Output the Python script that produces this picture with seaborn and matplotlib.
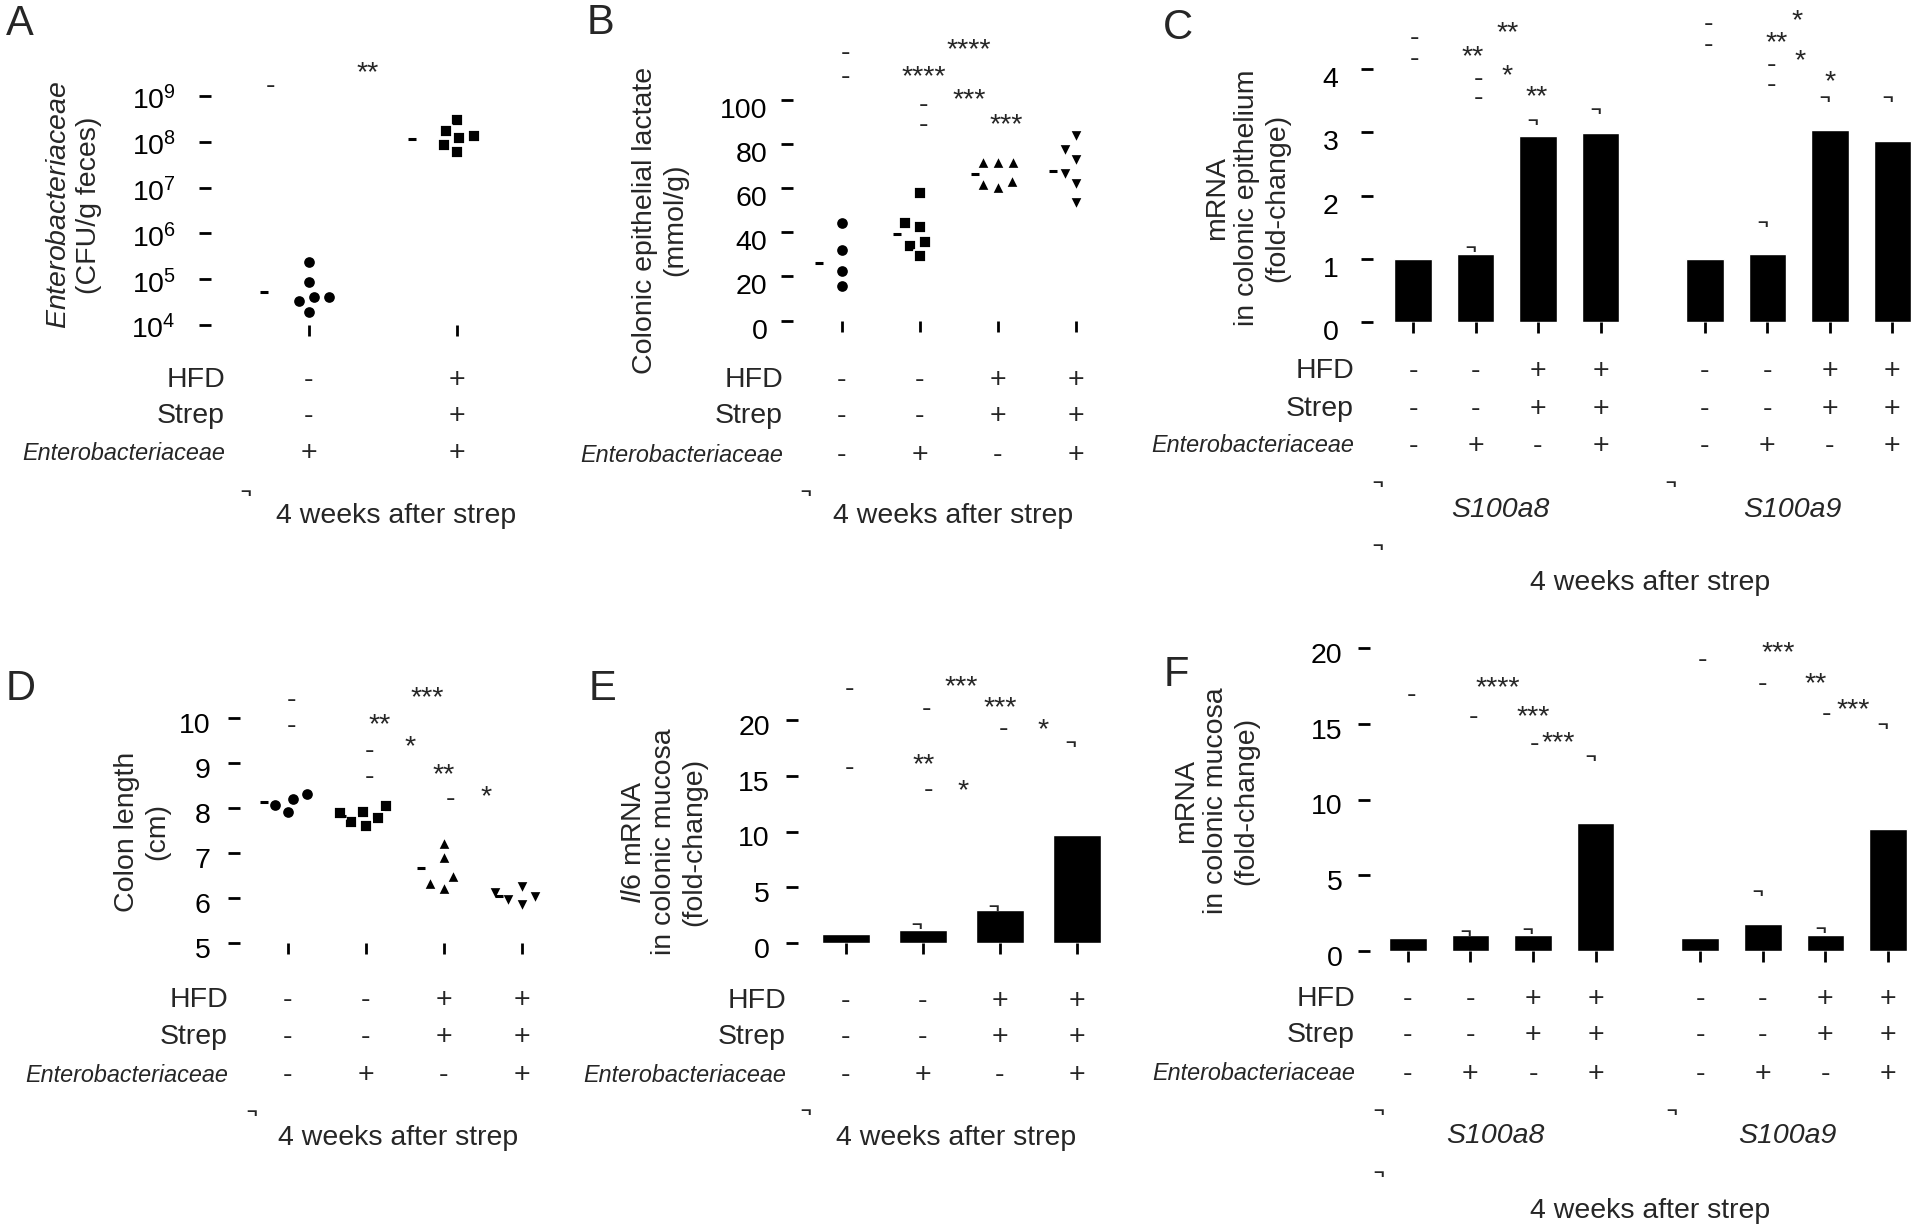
import matplotlib
matplotlib.use("Agg")
import matplotlib.pyplot as plt
import matplotlib.transforms as mtransforms
from matplotlib import font_manager
import seaborn as sns
import numpy as np
import pandas as pd

nan = np.nan

# ---- A: Enterobacteriaceae in feces (CFU/g) ----
a_hfd = ["-", "+"]
a_strep = ["-", "+"]
a_entero = ["+", "+"]
a_grp1 = [2.4e5, 8.7e4, 4.0e4, 4.0e4, 3.3e4, 1.9e4]
a_grp2 = [2.95e8, 1.74e8, 1.2e8, 1.32e8, 8.5e7, 5.9e7]
a_means = [5.2e4, 1.15e8]
a_ticks = [1e4, 1e5, 1e6, 1e7, 1e8, 1e9]
a_ticklabels = ["$10^{4}$", "$10^{5}$", "$10^{6}$", "$10^{7}$", "$10^{8}$", "$10^{9}$"]
a_marks = [("**", 0.4, 5.0e9), ("-", -0.26, 1.74e9)]

# ---- B: colonic epithelial lactate (mmol/g) ----
b_hfd = ["-", "-", "+", "+"]
b_strep = ["-", "-", "+", "+"]
b_entero = ["-", "+", "-", "+"]
b_grp1 = [44.2, 32.0, 22.7, 15.9]
b_grp2 = [57.9, 44.2, 42.6, 35.6, 34.0, 29.1]
b_grp3 = [71.7, 71.7, 71.7, 63.1, 60.4, 62.0]
b_grp4 = [83.8, 77.3, 72.8, 66.5, 62.0, 53.4]
b_means = [26.0, 39.3, 66.5, 67.6]
b_ticks = [0, 20, 40, 60, 80, 100]
b_marks = [("****", 1.63, 126.7), ("****", 1.05, 114.6), ("***", 1.63, 104.0),
           ("***", 2.11, 92.7), ("-", 0.05, 121.8), ("-", 0.05, 110.8),
           ("-", 1.04, 98.4), ("-", 1.04, 89.2)]

# ---- C: S100a8 / S100a9 mRNA in colonic epithelium ----
genes = ["S100a8", "S100a9"]
c_hfd = ["-", "-", "+", "+"]
c_strep = ["-", "-", "+", "+"]
c_entero = ["-", "+", "-", "+"]
c_s100a8 = [1.0, 1.08, 2.94, 2.99]
c_s100a9 = [1.0, 1.08, 3.03, 2.86]
c_err_s100a8 = [nan, 1.23, 3.23, 3.40]
c_err_s100a9 = [nan, 1.61, 3.60, 3.60]
c_ticks = [0, 1, 2, 3, 4]
c_marks = [("-", 0.03, 4.5), ("-", 0.03, 4.17), ("**", 1.52, 4.72), ("**", 0.96, 4.34),
           ("*", 1.5, 4.04), ("-", 1.05, 3.86), ("-", 1.05, 3.56), ("**", 1.97, 3.7),
           ("-", 4.73, 4.72), ("-", 4.73, 4.39), ("*", 6.14, 4.9), ("**", 5.81, 4.56),
           ("*", 6.2, 4.27), ("-", 5.73, 4.08), ("-", 5.73, 3.76), ("*", 6.67, 3.94)]

# ---- D: colon length (cm) ----
d_hfd = ["-", "-", "+", "+"]
d_strep = ["-", "-", "+", "+"]
d_entero = ["-", "+", "-", "+"]
d_grp1 = [8.2, 7.9, 8.32, 8.07]
d_grp2 = [8.05, 7.78, 7.6, 7.91, 7.69, 7.89]
d_grp3 = [7.22, 6.9, 6.48, 6.33, 6.22]
d_grp4 = [6.12, 5.85, 6.02, 6.25, 5.95]
d_means = [8.14, 7.82, 6.66, 6.04]
d_ticks = [5, 6, 7, 8, 9, 10]
d_marks = [("***", 1.78, 10.65), ("**", 1.18, 10.06), ("*", 1.56, 9.57), ("**", 2.0, 8.94),
           ("*", 2.54, 8.45), ("-", 2.08, 8.23), ("-", 0.05, 10.42), ("-", 0.05, 9.84),
           ("-", 1.04, 9.28), ("-", 1.04, 8.72)]

# ---- E: Il6 mRNA in colonic mucosa ----
e_hfd = ["-", "-", "+", "+"]
e_strep = ["-", "-", "+", "+"]
e_entero = ["-", "+", "-", "+"]
e_il6 = [0.8, 1.15, 2.95, 9.68]
e_err = [nan, 1.87, 3.5, 18.2]
e_ticks = [0, 5, 10, 15, 20]
e_marks = [("-", 0.05, 22.9), ("-", 0.05, 15.8), ("-", 1.04, 21.1), ("**", 1.01, 16.8),
           ("-", 1.07, 13.8), ("*", 1.52, 14.5), ("***", 1.5, 23.8), ("***", 2.0, 21.9),
           ("-", 2.05, 19.3), ("*", 2.56, 19.9)]

# ---- F: S100a8 / S100a9 mRNA in colonic mucosa ----
f_hfd = ["-", "-", "+", "+"]
f_strep = ["-", "-", "+", "+"]
f_entero = ["-", "+", "-", "+"]
f_s100a8 = [0.85, 1.06, 1.06, 8.43]
f_s100a9 = [0.85, 1.81, 1.06, 8.03]
f_err_s100a8 = [nan, 1.46, 1.6, 13.03]
f_err_s100a9 = [nan, 4.12, 1.65, 15.16]
f_ticks = [0, 5, 10, 15, 20]
f_marks = [("-", 0.06, 16.97), ("****", 1.43, 17.95), ("-", 1.05, 15.48), ("***", 2.0, 16.09),
           ("-", 2.02, 13.7), ("***", 2.4, 14.36), ("-", 4.71, 19.28), ("***", 5.91, 20.27),
           ("-", 5.66, 17.69), ("**", 6.51, 18.27), ("-", 6.69, 15.74), ("***", 7.11, 16.49)]

# ------------------------------------------------------------------
W, H = 1920, 1232
FS = 20.5
GENE_GAP = 0.67

sns.set_theme(style="white")
plt.rcParams["font.family"] = ["Liberation Sans", "DejaVu Sans"]
plt.rcParams["mathtext.fontset"] = "custom"
plt.rcParams["mathtext.rm"] = "Liberation Sans"
plt.rcParams["mathtext.it"] = "Liberation Sans:italic"
plt.rcParams["mathtext.default"] = "regular"

installed = {f.name for f in font_manager.fontManager.ttflist}
if "Liberation Sans Narrow" in installed:
    narrow = dict(family="Liberation Sans Narrow", fontsize=FS)
else:
    narrow = dict(family="Liberation Sans", fontsize=FS * 0.82)

fig = plt.figure(figsize=(W / 100, H / 100), dpi=100)


def fx(px):
    return px / W


def fy(px):
    return 1 - px / H


def make_ax(left, right, top, bottom):
    return fig.add_axes([fx(left), fy(bottom), (right - left) / W, (bottom - top) / H])


def style(ax, ticks, labels, pad, drop=0):
    for s in ax.spines.values():
        s.set_visible(False)
    ax.grid(False)
    ax.minorticks_off()
    ax.set_yticks(ticks)
    ax.set_yticklabels(labels)
    ax.tick_params(axis="y", left=True, direction="inout", length=8, width=2,
                   pad=pad, labelsize=FS, colors="black")
    ax.tick_params(axis="x", bottom=True, direction="out", length=8, width=2,
                   labelbottom=False, colors="black")
    ax.set_xlabel("")
    ax.set_ylabel("")
    # the tick labels sit a little below their tick marks in the original
    shift = mtransforms.ScaledTranslation(0, -drop / 100, fig.dpi_scale_trans)
    for lab in ax.get_yticklabels():
        lab.set_transform(lab.get_transform() + shift)


def marks(ax, items):
    for s, x, y in items:
        dy = -0.58 * FS if "*" in s else -0.28 * FS
        ax.annotate(s, (x, y), xytext=(0, dy), textcoords="offset points",
                    ha="center", va="baseline", fontsize=FS, annotation_clip=False)


def hook(x, y, ax=None):
    # small leftover cap fragment
    kw = dict(ha="center", va="baseline", fontsize=13, fontweight="bold")
    if ax is None:
        fig.text(fx(x), fy(y), "\u00ac", **kw)
    else:
        ax.annotate("\u00ac", (x, y), xytext=(0, -0.46 * 13), textcoords="offset points",
                    annotation_clip=False, **kw)


def table(ax, xs, rows, row_y, label_right):
    tr = mtransforms.blended_transform_factory(ax.transData, fig.transFigure)
    names = ["HFD", "Strep", "Enterobacteriaceae"]
    for name, signs, ypx in zip(names, rows, row_y):
        if name == "Enterobacteriaceae":
            fig.text(fx(label_right), fy(ypx), name, ha="right", va="center",
                     style="italic", **narrow)
        else:
            fig.text(fx(label_right), fy(ypx), name, ha="right", va="center", fontsize=FS)
        for x, s in zip(xs, signs):
            ax.text(x, fy(ypx), s, transform=tr, ha="center", va="center", fontsize=FS)


def scatter_panel(ax, groups, markers, means, log=False):
    names = [f"g{i}" for i in range(len(groups))]
    df = pd.DataFrame({"group": np.repeat(names, [len(g) for g in groups]),
                       "value": np.concatenate(groups)})
    if log:
        ax.set_yscale("log")
    for n, m in zip(names, markers):
        sns.swarmplot(data=df[df["group"] == n], x="group", y="value", order=names,
                      marker=m, color="black", size=9, linewidth=1.3,
                      edgecolor="white", ax=ax, zorder=3, clip_on=False)
    ax.scatter(np.arange(len(groups)) - 0.3, means, marker="_", s=36, linewidths=2.2,
               color="black", clip_on=False, zorder=3)
    return np.arange(len(groups))


def bar_panel(ax, values, errs, width):
    values = np.concatenate(values)
    errs = np.concatenate(errs)
    idx = np.arange(len(values))
    pos = idx + (idx // 4) * GENE_GAP
    df = pd.DataFrame({"pos": pos, "value": values})
    sns.barplot(data=df, x="pos", y="value", native_scale=True, width=width,
                color="black", saturation=1, errorbar=None, ax=ax)
    for p, e in zip(pos, errs):
        if not np.isnan(e):
            hook(p - 0.08, e, ax)
    ax.set_xticks(pos)
    return pos


# ---------------- A ----------------
ax = make_ax(205, 531, 96, 325)
xs = scatter_panel(ax, [a_grp1, a_grp2], ["o", "s"], a_means, log=True)
ax.set_xlim(-0.7, 1.5)
ax.set_ylim(1e4, 1e9)
style(ax, a_ticks, a_ticklabels, 17, drop=2)
marks(ax, a_marks)
table(ax, xs, [a_hfd, a_strep, a_entero], [380, 416, 453], 225)
fig.text(fx(74), fy(205), "$\\mathit{Enterobacteriaceae}$\n(CFU/g feces)", rotation=90,
         ha="center", va="center", fontsize=FS, multialignment="center")
fig.text(fx(396), fy(516), "4 weeks after strep", ha="center", va="center", fontsize=FS)
hook(246, 497)
fig.text(fx(20), fy(24), "A", ha="center", va="center", fontsize=30)

# ---------------- B ----------------
ax = make_ax(787, 1115, 100, 320.6)
xs = scatter_panel(ax, [b_grp1, b_grp2, b_grp3, b_grp4], ["o", "s", "^", "v"], b_means)
ax.set_xlim(-0.705, 3.5)
ax.set_ylim(0, 100)
style(ax, b_ticks, [str(t) for t in b_ticks], 10, drop=8)
marks(ax, b_marks)
table(ax, xs, [b_hfd, b_strep, b_entero], [380, 416, 455], 783)
fig.text(fx(660), fy(220), "Colonic epithelial lactate\n(mmol/g)", rotation=90,
         ha="center", va="center", fontsize=FS, multialignment="center")
fig.text(fx(953), fy(516), "4 weeks after strep", ha="center", va="center", fontsize=FS)
hook(806, 497)
fig.text(fx(601), fy(23), "B", ha="center", va="center", fontsize=30)

# ---------------- C ----------------
ax = make_ax(1367, 1913, 69, 322)
xs = bar_panel(ax, [c_s100a8, c_s100a9], [c_err_s100a8, c_err_s100a9], 0.6)
ax.set_xlim(-0.736, 8.0)
ax.set_ylim(0, 4)
style(ax, c_ticks, [str(t) for t in c_ticks], 16.5, drop=8)
marks(ax, c_marks)
table(ax, xs, [c_hfd * 2, c_strep * 2, c_entero * 2], [371, 409, 446], 1354)
tr = mtransforms.blended_transform_factory(ax.transData, fig.transFigure)
for k, g in enumerate(genes):
    ax.text(xs[4 * k:4 * k + 4].mean() - 0.1, fy(510), g, transform=tr, ha="center",
            va="center", fontsize=FS, style="italic")
fig.text(fx(1247), fy(198), "mRNA\nin colonic epithelium\n(fold-change)", rotation=90,
         ha="center", va="center", fontsize=FS, multialignment="center")
fig.text(fx(1650), fy(583), "4 weeks after strep", ha="center", va="center", fontsize=FS)
hook(1378, 488)
hook(1671, 488)
hook(1378, 551)
fig.text(fx(1178), fy(28), "C", ha="center", va="center", fontsize=30)

# ---------------- D ----------------
ax = make_ax(234, 561, 718, 943)
xs = scatter_panel(ax, [d_grp1, d_grp2, d_grp3, d_grp4], ["o", "s", "^", "v"], d_means)
ax.set_xlim(-0.69, 3.5)
ax.set_ylim(5, 10)
style(ax, d_ticks, [str(t) for t in d_ticks], 13, drop=5)
marks(ax, d_marks)
table(ax, xs, [d_hfd, d_strep, d_entero], [1000, 1037, 1075], 228)
fig.text(fx(142), fy(832), "Colon length\n(cm)", rotation=90,
         ha="center", va="center", fontsize=FS, multialignment="center")
fig.text(fx(398), fy(1138), "4 weeks after strep", ha="center", va="center", fontsize=FS)
hook(252, 1117)
fig.text(fx(21), fy(689), "D", ha="center", va="center", fontsize=30)

# ---------------- E ----------------
ax = make_ax(792, 1115.5, 720, 943)
xs = bar_panel(ax, [e_il6], [e_err], 0.63)
ax.set_xlim(-0.70, 3.5)
ax.set_ylim(0, 20)
style(ax, e_ticks, [str(t) for t in e_ticks], 12, drop=5)
marks(ax, e_marks)
table(ax, xs, [e_hfd, e_strep, e_entero], [1001, 1037, 1075], 786)
fig.text(fx(664), fy(842), "$\\mathit{Il6}$ mRNA\nin colonic mucosa\n(fold-change)",
         rotation=90, ha="center", va="center", fontsize=FS, multialignment="center")
fig.text(fx(956), fy(1138), "4 weeks after strep", ha="center", va="center", fontsize=FS)
hook(806, 1116)
fig.text(fx(602), fy(689), "E", ha="center", va="center", fontsize=30)

# ---------------- F ----------------
ax = make_ax(1364, 1908.6, 648, 951)
xs = bar_panel(ax, [f_s100a8, f_s100a9], [f_err_s100a8, f_err_s100a9], 0.6)
ax.set_xlim(-0.70, 8.0)
ax.set_ylim(0, 20)
style(ax, f_ticks, [str(t) for t in f_ticks], 11.5, drop=5)
marks(ax, f_marks)
table(ax, xs, [f_hfd * 2, f_strep * 2, f_entero * 2], [999, 1035, 1074], 1355)
tr = mtransforms.blended_transform_factory(ax.transData, fig.transFigure)
for k, g in enumerate(genes):
    ax.text(xs[4 * k:4 * k + 4].mean() - 0.1, fy(1136), g, transform=tr, ha="center",
            va="center", fontsize=FS, style="italic")
fig.text(fx(1216), fy(801), "mRNA\nin colonic mucosa\n(fold-change)", rotation=90,
         ha="center", va="center", fontsize=FS, multialignment="center")
fig.text(fx(1650), fy(1211), "4 weeks after strep", ha="center", va="center", fontsize=FS)
hook(1379, 1116)
hook(1672, 1116)
hook(1379, 1178)
fig.text(fx(1176), fy(675), "F", ha="center", va="center", fontsize=30)

fig.savefig("out.png", dpi=100, facecolor="white")
